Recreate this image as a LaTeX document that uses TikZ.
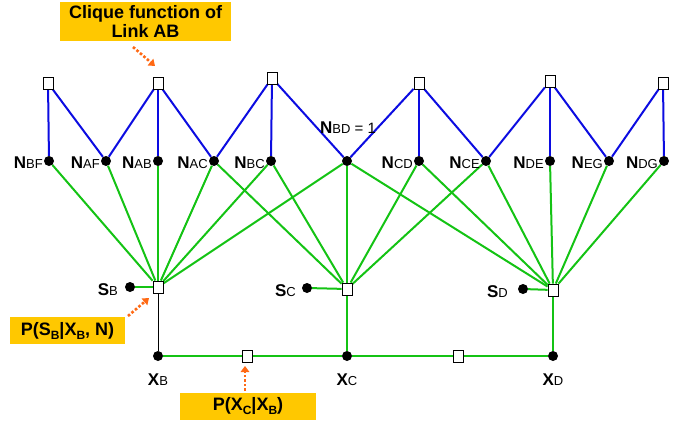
\documentclass[tikz,border=0pt]{standalone}
\usepackage{fontspec}
\setmainfont{Liberation Sans}
\usetikzlibrary{arrows.meta,backgrounds}

\definecolor{linkblue}{RGB}{12,12,225}
\definecolor{factgreen}{RGB}{20,195,20}
\definecolor{calloutfill}{RGB}{255,200,0}
\definecolor{pointerorange}{RGB}{255,105,20}

% bold capital followed by a smaller, upright index on the same baseline
\newcommand\varlab[2]{{\fontsize{17}{17}\selectfont\bfseries #1}{\fontsize{13}{13}\selectfont #2}}
% lowered bold index inside the callout formulas
\newcommand\lowidx[1]{\raisebox{-4pt}{\fontsize{12}{12}\selectfont\bfseries #1}}

\tikzset{
  var/.style={circle,fill=black,inner sep=0pt,minimum size=10pt},
  fac/.style={draw=black,fill=white,line width=0.9pt,inner sep=0pt,
              minimum width=10pt,minimum height=12pt},
  blue edge/.style={linkblue,line width=2pt},
  green edge/.style={factgreen,line width=2pt},
  thin edge/.style={black,line width=0.8pt},
  lbl/.style={inner sep=0pt,anchor=base east},
  note/.style={fill=calloutfill,align=center,inner sep=0pt,
               font=\fontsize{18}{19}\selectfont\bfseries},
  pointer arrow/.style={pointerorange,line width=2.6pt,
               dash pattern=on 2.6pt off 2pt,
               -{Triangle[length=6pt,width=8.5pt]}}
}

\begin{document}
\begin{tikzpicture}[x=1pt,y=-1pt]
\useasboundingbox (0,0) rectangle (686,426);

% link clique factors (top row)
\node[fac] (T1) at (48,83) {};
\node[fac] (T2) at (158,83) {};
\node[fac] (T3) at (272,78) {};
\node[fac] (T4) at (419,83) {};
\node[fac] (T5) at (550,81) {};
\node[fac] (T6) at (663,83) {};

% link variables
\node[var] (NBF) at (49,161) {};
\node[var] (NAF) at (106,161) {};
\node[var] (NAB) at (158,161) {};
\node[var] (NAC) at (214,161) {};
\node[var] (NBC) at (271,161) {};
\node[var] (NBD) at (347,161) {};
\node[var] (NCD) at (419,161) {};
\node[var] (NCE) at (486,161) {};
\node[var] (NDE) at (550,161) {};
\node[var] (NEG) at (609,161) {};
\node[var] (NDG) at (664,161) {};

\node[lbl] (lBF) at (43,168) {\varlab{N}{BF}};
\node[lbl] (lAF) at (100,168) {\varlab{N}{AF}};
\node[lbl] (lAB) at (152,168) {\varlab{N}{AB}};
\node[lbl] (lAC) at (208,168) {\varlab{N}{AC}};
\node[lbl] (lBC) at (265,168) {\varlab{N}{BC}};
\node[lbl] (lCD) at (413,168) {\varlab{N}{CD}};
\node[lbl] (lCE) at (480,168) {\varlab{N}{CE}};
\node[lbl] (lDE) at (544,168) {\varlab{N}{DE}};
\node[lbl] (lEG) at (603,168) {\varlab{N}{EG}};
\node[lbl] (lDG) at (658,168) {\varlab{N}{DG}};
\node[inner sep=0pt,anchor=base west] (lBD) at (320,133)
  {\varlab{N}{BD}{\fontsize{15}{15}\selectfont\ = 1}};

% sensor factors and variables
\node[fac] (FB) at (158,287) {};
\node[fac] (FC) at (347,289) {};
\node[fac] (FD) at (553,290) {};
\node[var] (SB) at (130,287) {};
\node[var] (SC) at (307,288) {};
\node[var] (SD) at (523,289) {};
\node[lbl] (lSB) at (118,295) {\varlab{S}{B}};
\node[lbl] (lSC) at (296,296) {\varlab{S}{C}};
\node[lbl] (lSD) at (508,297) {\varlab{S}{D}};

% position chain
\node[var] (XB) at (158,356) {};
\node[var] (XC) at (347,356) {};
\node[var] (XD) at (553,356) {};
\node[fac] (PBC) at (247,356) {};
\node[fac] (PCD) at (458,356) {};
\node[inner sep=0pt,anchor=base] (lXB) at (158,385) {\varlab{X}{B}};
\node[inner sep=0pt,anchor=base] (lXC) at (347,385) {\varlab{X}{C}};
\node[inner sep=0pt,anchor=base] (lXD) at (553,385) {\varlab{X}{D}};

% callouts
\node[note,minimum width=171pt,minimum height=39pt] (cAB) at (145.5,21.5)
  {Clique function of\\Link AB};
\node[note,minimum width=115pt,minimum height=27pt] (cS) at (67.5,330.5)
  {P(S\lowidx{B}|X\lowidx{B}, N)};
\node[note,minimum width=136pt,minimum height=27pt] (cX) at (248,406.5)
  {P(X\lowidx{C}|X\lowidx{B})};
\coordinate (aAB0) at (133,47);  \coordinate (aAB1) at (155,66);
\coordinate (aS0) at (128,316);  \coordinate (aS1) at (149,298);
\coordinate (aX0) at (245,391);  \coordinate (aX1) at (245,366);
\draw[pointer arrow] (aAB0) -- (aAB1);
\draw[pointer arrow] (aS0) -- (aS1);
\draw[pointer arrow] (aX0) -- (aX1);

\begin{scope}[on background layer]
  % link cliques
  \foreach \t/\n in {T1/NBF,T1/NAF,T2/NAF,T2/NAB,T2/NAC,T3/NAC,T3/NBC,T3/NBD,
                     T4/NBD,T4/NCD,T4/NCE,T5/NCE,T5/NDE,T5/NEG,T6/NEG,T6/NDG}
    \draw[blue edge] (\t) -- (\n);
  % sensor factors
  \foreach \n in {NBF,NAF,NAB,NAC,NBC,NBD}
    \draw[green edge] (\n) -- (FB);
  \foreach \n in {NAC,NBC,NBD,NCD,NCE}
    \draw[green edge] (\n) -- (FC);
  \foreach \n in {NBD,NCD,NCE,NDE,NEG,NDG}
    \draw[green edge] (\n) -- (FD);
  \draw[green edge] (SB) -- (FB);
  \draw[green edge] (SC) -- (FC);
  \draw[green edge] (SD) -- (FD);
  \draw[thin edge] (FB) -- (XB);
  \draw[green edge] (FC) -- (XC);
  \draw[green edge] (FD) -- (XD);
  \draw[green edge] (XB) -- (PBC) -- (XC) -- (PCD) -- (XD);
\end{scope}
\end{tikzpicture}
\end{document}
